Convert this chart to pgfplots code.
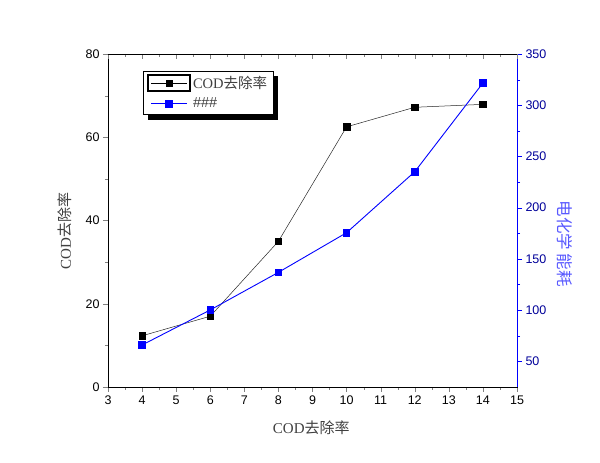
\documentclass[border=0pt]{standalone}
\usepackage{pgfplots}
\pgfplotsset{compat=1.18}
\usepackage{fontspec}
\setmainfont{Liberation Sans}
\newfontfamily\cjk{Noto Sans CJK SC}
\newfontfamily\serifl{Liberation Serif}
\usetikzlibrary{backgrounds,calc}
\newcommand{\cod}{{\serifl COD}{\cjk 去除率}}
\pgfplotsset{
  boxlegend/.style={legend image code/.code={
    \draw[line width=1.8pt,black] (-3pt,-8pt) rectangle (39pt,8pt);
    \draw[mark repeat=2,mark phase=2,##1] plot coordinates {(0pt,0pt) (18pt,0pt) (36pt,0pt)};}},
  longlegend/.style={legend image code/.code={
    \draw[mark repeat=2,mark phase=2,##1,draw=blue,line width=0.9pt] plot coordinates {(0pt,0pt) (18pt,0pt) (36pt,0pt)};}},
}
\begin{document}
\begin{tikzpicture}[x=1pt,y=1pt]
\pgfplotsset{every axis/.append style={
  scale only axis, width=409pt, height=333pt, at={(0,0)}, anchor=south west,
  xmin=3, xmax=15,
  /pgf/number format/assume math mode=true,
  tick label style={font=\fontsize{12.5}{14}\selectfont},
  tick align=outside, major tick length=5pt, minor tick length=3pt,
  label style={font=\fontsize{15}{17}\selectfont}
}}
\begin{axis}[
  ymin=0, ymax=80, ytick={0,20,...,80}, minor y tick num=1,
  xtick={3,...,15}, minor x tick num=1,
  xtick pos=bottom, ytick pos=left,
  xlabel={\cod}, ylabel={\cod},
  xlabel style={at={(axis description cs:0.497,-0.123)}, anchor=center, text=black!75},
  ylabel style={at={(axis description cs:-0.105,0.468)}, anchor=center, text=black!75},
]
\addplot[black!85, line width=0.5pt, mark=square*, mark size=3.3pt, mark options={fill=black, draw=black}]
  coordinates {(4,12.3)(6,17.0)(8,35.0)(10,62.5)(12,67.2)(14,67.9)};
\end{axis}
\begin{axis}[
  axis x line=none, axis y line*=right,
  ymin=25, ymax=350, ytick={50,100,...,350}, minor y tick num=1,
  y axis line style={blue, line width=0.9pt},
  ytick style={blue},
  yticklabel style={text=blue!60!black},
  ylabel={\cjk 电化学 能耗},
  ylabel style={rotate=180, at={(axis description cs:1.117,0.43)}, anchor=center, text=blue!65, font=\fontsize{16.5}{18}\selectfont},
  legend style={name=leg, at={(0.0856,0.949)}, anchor=north west, draw=black, fill=white,
    font=\fontsize{14.5}{16}\selectfont, text=black!75,
    inner xsep=4pt, inner ysep=3pt, row sep=4pt},
  legend cell align=left,
]
\addlegendimage{black, line width=0.5pt, mark=square*, mark size=3.3pt, mark options={fill=black}, boxlegend}
\addlegendentry{\cod}
\addplot[blue, line width=0.9pt, mark=square*, mark size=3.3pt, mark options={fill=blue, draw=blue}, longlegend]
  coordinates {(4,66.0)(6,100.2)(8,136.9)(10,175.6)(12,235.1)(14,321.7)};
\addlegendentry{\#\#\#}
\end{axis}
\begin{axis}[
  axis x line*=top, axis y line=none, ymin=0, ymax=80,
  xtick={3,...,15}, minor x tick num=1, xticklabels={}, tick align=inside,
]
\end{axis}
\begin{pgfonlayer}{background}
\fill[black] ($(leg.south west)+(5,-5)$) rectangle ($(leg.north east)+(5,-5)$);
\end{pgfonlayer}
\path (-108,-76) rectangle (492,387);
\end{tikzpicture}
\end{document}
